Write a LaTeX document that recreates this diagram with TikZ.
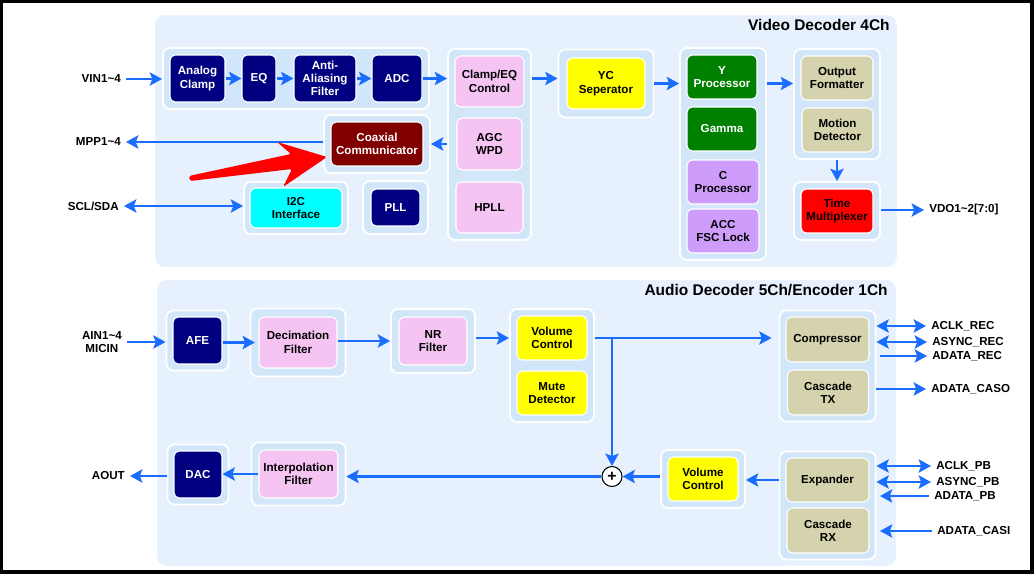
\documentclass[tikz,border=0pt]{standalone}
\usepackage{fontspec}
\setmainfont{Liberation Sans}
\usepackage{xcolor}
\usepackage{tikz}
\usetikzlibrary{positioning,fit,backgrounds,arrows.meta}
\definecolor{sigblue}{HTML}{1A6DFF}
\definecolor{panelblue}{HTML}{E7F1FD}
\definecolor{grpblue}{HTML}{D2E6FA}
\definecolor{cnavy}{HTML}{000080}
\definecolor{cpink}{HTML}{F6C4F3}
\definecolor{cyellow}{HTML}{FFFF00}
\definecolor{cgreen}{HTML}{008000}
\definecolor{cviolet}{HTML}{CE9CFB}
\definecolor{ckhaki}{HTML}{D5D3AD}
\definecolor{cmaroon}{HTML}{800000}
\definecolor{cred}{HTML}{FF0000}
\definecolor{ccyan}{HTML}{00FFFF}
\newcommand{\boxfont}{\bfseries\fontsize{6.6}{7.6}\selectfont}
\newcommand{\ttlfont}{\bfseries\fontsize{8.8}{10}\selectfont}

\begin{document}
\begin{tikzpicture}[
    x=0.02cm, y=-0.02cm,
    >={Stealth[length=7pt,width=7.5pt,inset=1.4pt]},
    blk/.style={rounded corners=3pt, draw=white, line width=0.6pt, align=center,
                inner sep=1pt, font=\boxfont},
    navyblk/.style={blk, fill=cnavy, text=white},
    pinkblk/.style={blk, fill=cpink},
    yellowblk/.style={blk, fill=cyellow},
    greenblk/.style={blk, fill=cgreen, text=white},
    violetblk/.style={blk, fill=cviolet},
    khakiblk/.style={blk, fill=ckhaki},
    maroonblk/.style={blk, fill=cmaroon, text=white},
    redblk/.style={blk, fill=cred},
    cyanblk/.style={blk, fill=ccyan},
    grp/.style={rounded corners=4pt, fill=grpblue, draw=white, line width=1pt, inner sep=0.13cm},
    panel/.style={rounded corners=6pt, fill=panelblue, draw=white, line width=1.2pt},
    lbl/.style={font=\boxfont, inner sep=2.8pt, align=center},
    ttl/.style={font=\ttlfont, inner sep=0pt},
    sig/.style={draw=sigblue, line width=1.4pt, ->}
]
    \useasboundingbox (0,0) rectangle (1034,574);

    % Frame and panels
    \begin{scope}[on background layer]
        \fill[black] (0,0) rectangle (1034,574);
        \fill[white] (3,3) rectangle (1030,570);
        \draw[panel] (154,14) rectangle (898,268);
        \draw[panel] (156,279) rectangle (897,567);
    \end{scope}
    \node[ttl, anchor=east] (vtitle) at (890,25) {Video Decoder 4Ch};
    \node[ttl, anchor=east] (atitle) at (888,290) {Audio Decoder 5Ch/Encoder 1Ch};

    % Video front end
    \node[navyblk, minimum width=1.1cm, minimum height=0.94cm] (aclamp) at (197.5,78.5) {Analog\\Clamp};
    \node[navyblk, minimum width=0.68cm, minimum height=0.94cm] (eq) at (259,78.5) {EQ};
    \node[navyblk, minimum width=1.24cm, minimum height=0.94cm] (aaf) at (325,78.5) {Anti-\\Aliasing\\Filter};
    \node[navyblk, minimum width=1.0cm, minimum height=0.94cm] (adc) at (397,78.5) {ADC};

    \node[pinkblk, minimum width=1.38cm, minimum height=1.02cm] (clampeq) at (489.5,81.5) {Clamp/EQ\\Control};
    \node[pinkblk, minimum width=1.3cm, minimum height=1.04cm] (agc) at (489.5,144) {AGC\\WPD};
    \node[pinkblk, minimum width=1.34cm, minimum height=1.02cm] (hpll) at (489.5,207.5) {HPLL};

    \node[yellowblk, minimum width=1.56cm, minimum height=1.02cm] (ycsep) at (606,83.5) {YC\\Seperator};

    \node[greenblk, minimum width=1.4cm, minimum height=0.88cm] (yproc) at (722,77) {Y\\Processor};
    \node[greenblk, minimum width=1.4cm, minimum height=0.88cm] (gamma) at (722,129) {Gamma};
    \node[violetblk, minimum width=1.44cm, minimum height=0.88cm] (cproc) at (723,182) {C\\Processor};
    \node[violetblk, minimum width=1.44cm, minimum height=0.88cm] (accfsc) at (723,231) {ACC\\FSC Lock};

    \node[khakiblk, minimum width=1.44cm, minimum height=0.88cm] (outfmt) at (837,78) {Output\\Formatter};
    \node[khakiblk, minimum width=1.42cm, minimum height=0.88cm] (motion) at (837.5,130) {Motion\\Detector};
    \node[redblk, minimum width=1.44cm, minimum height=0.88cm] (timemux) at (837,211) {Time\\Multiplexer};

    \node[maroonblk, minimum width=1.84cm, minimum height=0.88cm] (coax) at (377,144) {Coaxial\\Communicator};
    \node[cyanblk, minimum width=1.84cm, minimum height=0.8cm] (i2c) at (296,208) {I2C\\Interface};
    \node[navyblk, minimum width=0.98cm, minimum height=0.74cm] (pll) at (395.5,207.5) {PLL};

    % Audio path
    \node[navyblk, minimum width=0.98cm, minimum height=0.94cm] (afe) at (197.5,340.5) {AFE};
    \node[pinkblk, minimum width=1.56cm, minimum height=1.02cm] (decim) at (298,342.5) {Decimation\\Filter};
    \node[pinkblk, minimum width=1.36cm, minimum height=0.96cm] (nrf) at (433,341) {NR\\Filter};
    \node[yellowblk, minimum width=1.4cm, minimum height=0.88cm] (vol1) at (552,338) {Volume\\Control};
    \node[yellowblk, minimum width=1.4cm, minimum height=0.88cm] (mute) at (552,393) {Mute\\Detector};
    \node[khakiblk, minimum width=1.66cm, minimum height=0.9cm] (compr) at (827.5,339.5) {Compressor};
    \node[khakiblk, minimum width=1.62cm, minimum height=0.9cm] (castx) at (828,392.5) {Cascade\\TX};

    \node[khakiblk, minimum width=1.66cm, minimum height=0.88cm] (expand) at (827.5,480) {Expander};
    \node[khakiblk, minimum width=1.64cm, minimum height=0.9cm] (casrx) at (828,530.5) {Cascade\\RX};
    \node[yellowblk, minimum width=1.4cm, minimum height=0.88cm] (vol2) at (703,479) {Volume\\Control};
    \node[draw=black, fill=white, circle, line width=0.6pt, minimum size=0.4cm, inner sep=0pt,
          font=\bfseries\fontsize{9}{9}\selectfont] (sum) at (612,476.5) {+};
    \node[pinkblk, minimum width=1.58cm, minimum height=0.96cm] (interp) at (298.5,474) {Interpolation\\Filter};
    \node[navyblk, minimum width=0.96cm, minimum height=0.94cm] (dac) at (198,474.5) {DAC};

    % Group backgrounds
    \begin{scope}[on background layer]
        \node[grp, fit=(aclamp)(adc)] (gana) {};
        \node[grp, fit=(clampeq)(agc)(hpll)] (gclamp) {};
        \node[grp, inner sep=0.16cm, fit=(ycsep)] (gyc) {};
        \node[grp, fit=(yproc)(accfsc)] (gy) {};
        \node[grp, fit=(outfmt)(motion)] (gout) {};
        \node[grp, fit=(timemux)] (gtm) {};
        \node[grp, fit=(coax)] (gcoax) {};
        \node[grp, inner sep=0.11cm, fit=(i2c)] (gi2c) {};
        \node[grp, inner sep=0.15cm, fit=(pll)] (gpll) {};
        \node[grp, inner sep=0.12cm, fit=(afe)] (gafe) {};
        \node[grp, inner sep=0.16cm, fit=(decim)] (gdec) {};
        \node[grp, inner sep=0.15cm, fit=(nrf)] (gnr) {};
        \node[grp, fit=(vol1)(mute)] (gvol) {};
        \node[grp, inner sep=0.12cm, fit=(compr)(castx)] (gcomp) {};
        \node[grp, inner sep=0.12cm, fit=(expand)(casrx)] (gexp) {};
        \node[grp, fit=(vol2)] (gvol2) {};
        \node[grp, inner sep=0.12cm, fit=(dac)] (gdac) {};
        \node[grp, inner sep=0.14cm, fit=(interp)] (ginterp) {};
    \end{scope}

    % Pin labels
    \node[lbl, anchor=east] (vin) at (126,79) {VIN1\textasciitilde4};
    \node[lbl, anchor=east] (mpp) at (126,142) {MPP1\textasciitilde4};
    \node[lbl, anchor=east] (scl) at (124,206) {SCL/SDA};
    \node[lbl, anchor=west] (vdo) at (924,210) {VDO1\textasciitilde2[7:0]};
    \node[lbl, anchor=east] (ain) at (127,342) {AIN1\textasciitilde4\\MICIN};
    \node[lbl, anchor=east] (aout) at (130,476) {AOUT};
    \node[lbl, anchor=west] (aclkrec) at (926,326) {ACLK\_REC};
    \node[lbl, anchor=west] (asyncrec) at (927,342) {ASYNC\_REC};
    \node[lbl, anchor=west] (adatarec) at (927,356) {ADATA\_REC};
    \node[lbl, anchor=west] (adatacaso) at (926,389) {ADATA\_CASO};
    \node[lbl, anchor=west] (aclkpb) at (931,466) {ACLK\_PB};
    \node[lbl, anchor=west] (asyncpb) at (931,482) {ASYNC\_PB};
    \node[lbl, anchor=west] (adatapb) at (929,496) {ADATA\_PB};
    \node[lbl, anchor=west] (adatacasi) at (932,531) {ADATA\_CASI};

    % Video arrows
    \draw[sig] (vin.east) -- (vin.east -| gana.west);
    \draw[sig] (aclamp.east) -- (eq.west);
    \draw[sig] (eq.east) -- (aaf.west);
    \draw[sig] (aaf.east) -- (adc.west);
    \draw[sig] (adc.east) -- (adc.east -| gclamp.west);
    \draw[sig] (gclamp.east |- adc) -- (gyc.west |- adc);
    \draw[sig] (gyc.east |- ycsep) -- (gy.west |- ycsep);
    \draw[sig] (gy.east |- ycsep) -- (gout.west |- ycsep);
    \draw[sig] (gout.south) -- (gtm.north);
    \draw[sig] (vdo.west -| gtm.east) -- (vdo.west);
    \draw[sig] (gclamp.west |- gcoax) -- (gcoax.east);
    \draw[sig] (gcoax.west |- mpp.east) -- (mpp.east);
    \draw[sig, <->] (scl.east) -- (scl.east -| gi2c.west);

    % Audio arrows
    \draw[sig] (ain.east) -- (ain.east -| gafe.west);
    \draw[sig] (afe.east |- decim) -- ([xshift=-2pt]decim.west);
    \draw[sig] (decim.east |- nrf) -- (gnr.west |- nrf);
    \draw[sig] (gnr.east |- vol1) -- (gvol.west |- vol1);
    \draw[sig, shorten >=4pt] (gvol.east |- vol1) -- (gcomp.west |- vol1);
    \draw[sig] (sum |- vol1) -- (sum.north);
    \draw[sig] (gvol2.west |- sum) -- (sum.east);
    \draw[sig] (gexp.west |- expand) -- (gvol2.east |- expand);
    \draw[sig] (sum.west) -- (sum.west -| ginterp.east);
    \draw[sig] (interp.west) -- (interp.west -| dac.east);
    \draw[sig] (gdac.west |- aout.east) -- (aout.east);

    \draw[sig, <->] (gcomp.east |- aclkrec.west) -- (aclkrec.west);
    \draw[sig, <->] (gcomp.east |- asyncrec.west) -- (asyncrec.west);
    \draw[sig, shorten <=2pt] (gcomp.east |- adatarec.west) -- (adatarec.west);
    \draw[sig] (gcomp.east |- adatacaso.west) -- (adatacaso.west);
    \draw[sig, <->] (gexp.east |- aclkpb.west) -- (aclkpb.west);
    \draw[sig, <->] (gexp.east |- asyncpb.west) -- (asyncpb.west);
    \draw[sig, shorten >=2pt] (adatapb.west) -- (gexp.east |- adatapb.west);
    \draw[sig, shorten >=2pt] (adatacasi.west) -- (gexp.east |- adatacasi.west);

    % Pointer
    \fill[cred, rounded corners=1pt] (189,176) -- (291,154) -- (277,142) -- (327,157)
        -- (283,187) -- (292,169) -- (190,181) -- cycle;
\end{tikzpicture}
\end{document}
